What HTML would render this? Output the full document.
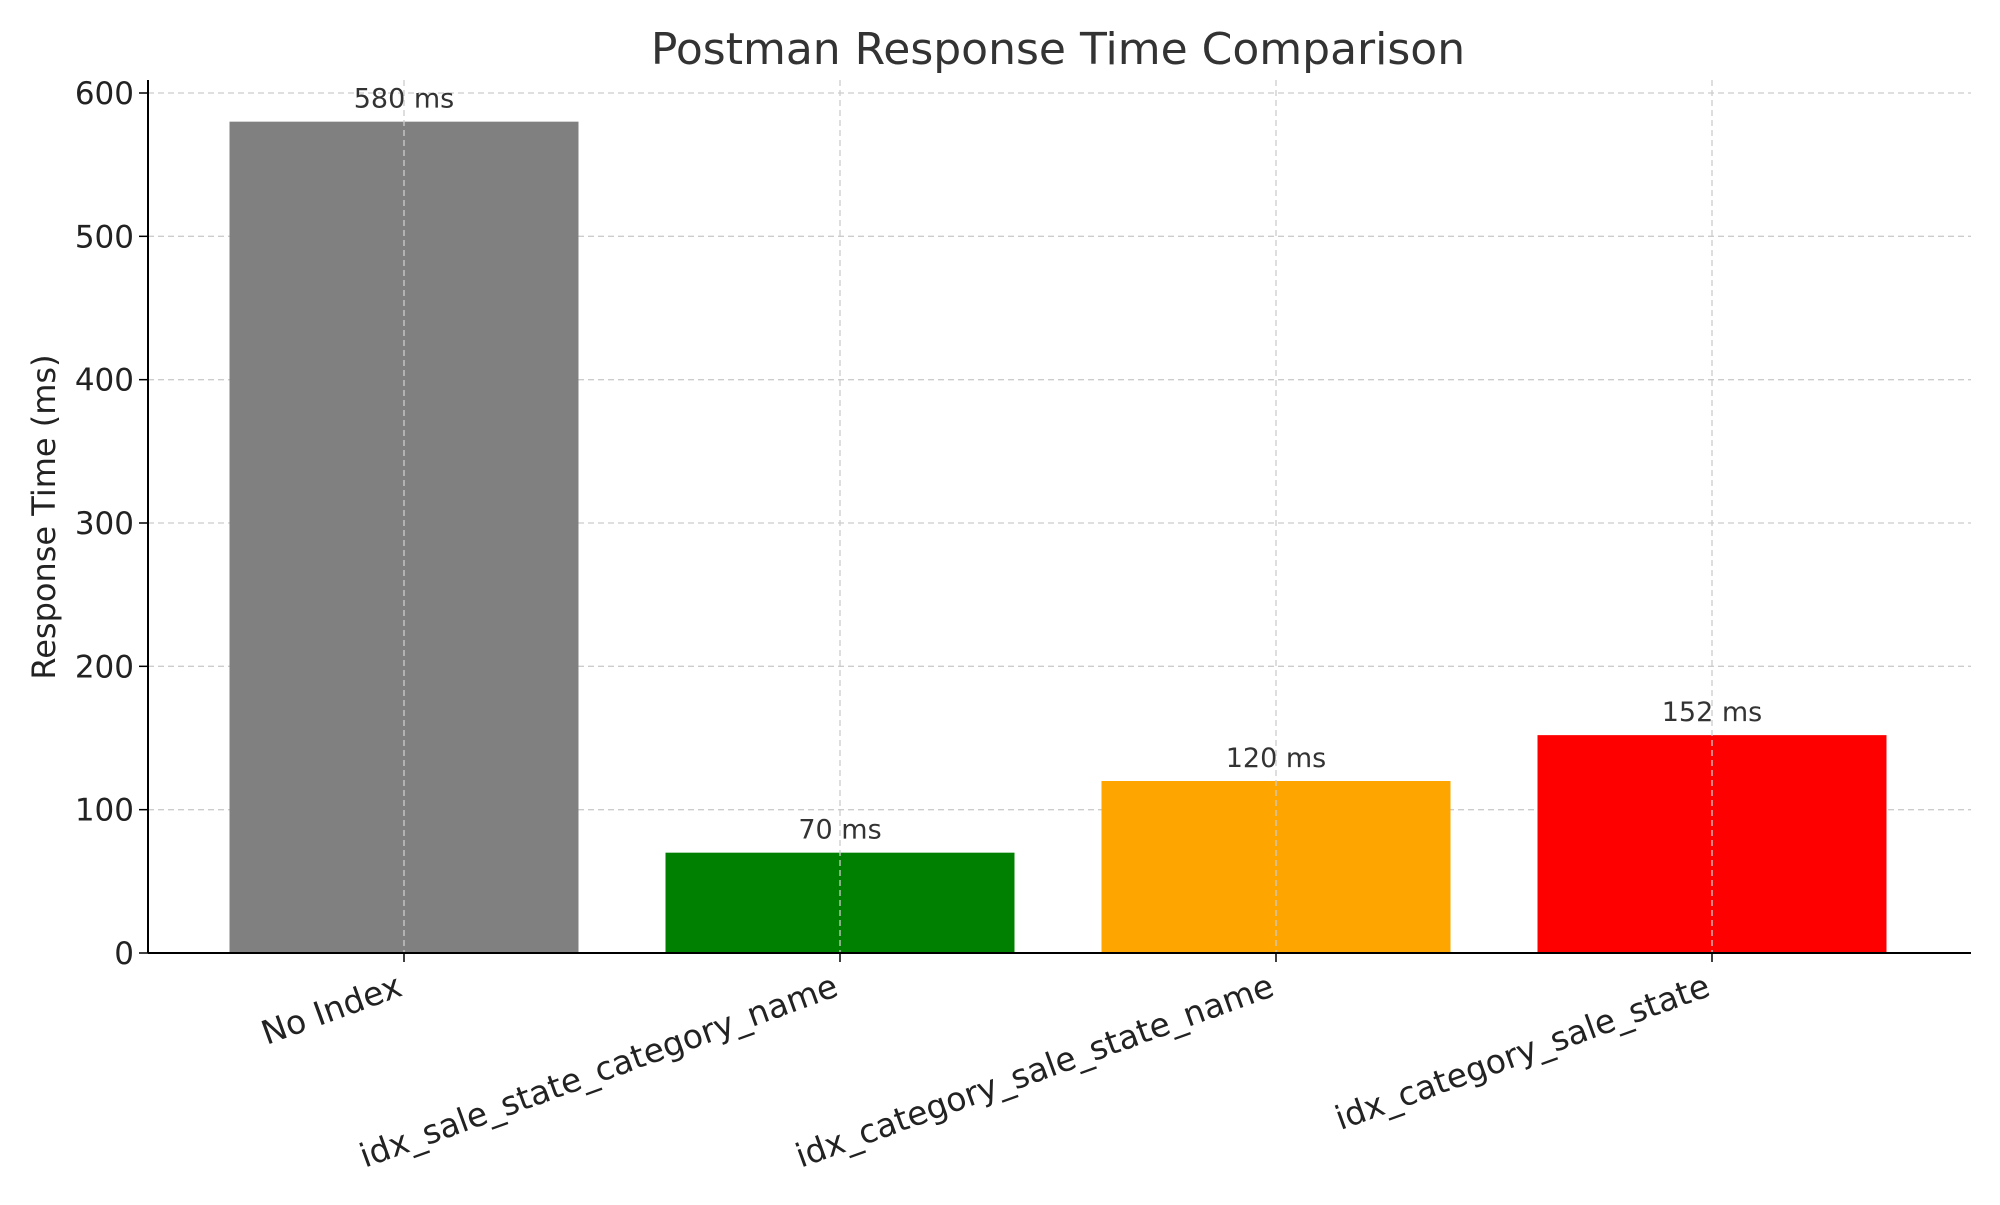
<!DOCTYPE html>
<html><head><meta charset="utf-8"><style>
body{margin:0;background:#fff;}
svg text{font-family:"DejaVu Sans","Liberation Sans",sans-serif;}
</style></head><body>
<svg id="chart" width="2000" height="1200" xmlns="http://www.w3.org/2000/svg">
<text x="1058" y="64" font-size="44" text-anchor="middle" fill="#333">Postman Response Time Comparison</text>
<text transform="translate(55,517) rotate(-90)" font-size="32" text-anchor="middle" fill="#222">Response Time (ms)</text>
<g id="grid"></g>
<g id="bars"></g>
<g id="axes"></g>
</svg>
<script>
const categories = ["No Index","idx_sale_state_category_name","idx_category_sale_state_name","idx_category_sale_state"];
const values = [580,70,120,152];
const colors = ["#808080","#008000","#FFA500","#FF0000"];
const yTicks = [0,100,200,300,400,500,600];
const valueLabels = ["580 ms","70 ms","120 ms","152 ms"];

const L=148,R=1971,T=80,B0=953,Y600=93;
const NS="http://www.w3.org/2000/svg";
const y=v=>B0-(B0-Y600)*v/600;
const slot=436, x=i=>404+i*slot, bw=349;
function mk(tag,attrs,parent){const e=document.createElementNS(NS,tag);for(const k in attrs)e.setAttribute(k,attrs[k]);parent.appendChild(e);return e;}
const grid=document.getElementById('grid'),bars=document.getElementById('bars'),axes=document.getElementById('axes');
yTicks.forEach(t=>{
  const g=mk('line',{x1:L,x2:R,y1:y(t),y2:y(t),stroke:'#ccc','stroke-width':1.3,'stroke-dasharray':'6,4'},grid);
  
  
  const tk=mk('line',{x1:L-9,x2:L,y1:y(t),y2:y(t),stroke:'#000','stroke-width':1.5},axes);
  
  
  const tx=mk('text',{x:L-14,y:y(t)+11,'font-size':31,'text-anchor':'end',fill:'#222'},axes);
  tx.textContent=t;
  
  
});
categories.forEach((c,i)=>{
  const cx=x(i);
  const r=mk('rect',{x:cx-bw/2,y:y(values[i]),width:bw,height:B0-y(values[i]),fill:colors[i]},bars);
  
  
  const g=mk('line',{x1:cx,x2:cx,y1:T,y2:B0,stroke:'#ccc','stroke-width':1.3,'stroke-dasharray':'6,4'},bars);
  
  
  const v=mk('text',{x:cx,y:y(values[i])-14,'font-size':27,'text-anchor':'middle',fill:'#333'},bars);
  v.textContent=valueLabels[i];
  
  
  const tk=mk('line',{x1:cx,x2:cx,y1:B0,y2:B0+9,stroke:'#000','stroke-width':1.5},axes);
  
  
  const lb=mk('text',{transform:`translate(${cx},${B0+42}) rotate(-20)`,'font-size':33,'text-anchor':'end',fill:'#222'},axes);
  lb.textContent=c;
  
  
});
const ly=mk('line',{x1:L,x2:L,y1:T,y2:B0,stroke:'#000','stroke-width':2},axes);


const lx=mk('line',{x1:L,x2:R,y1:B0,y2:B0,stroke:'#000','stroke-width':2},axes);


</script>
</body></html>
